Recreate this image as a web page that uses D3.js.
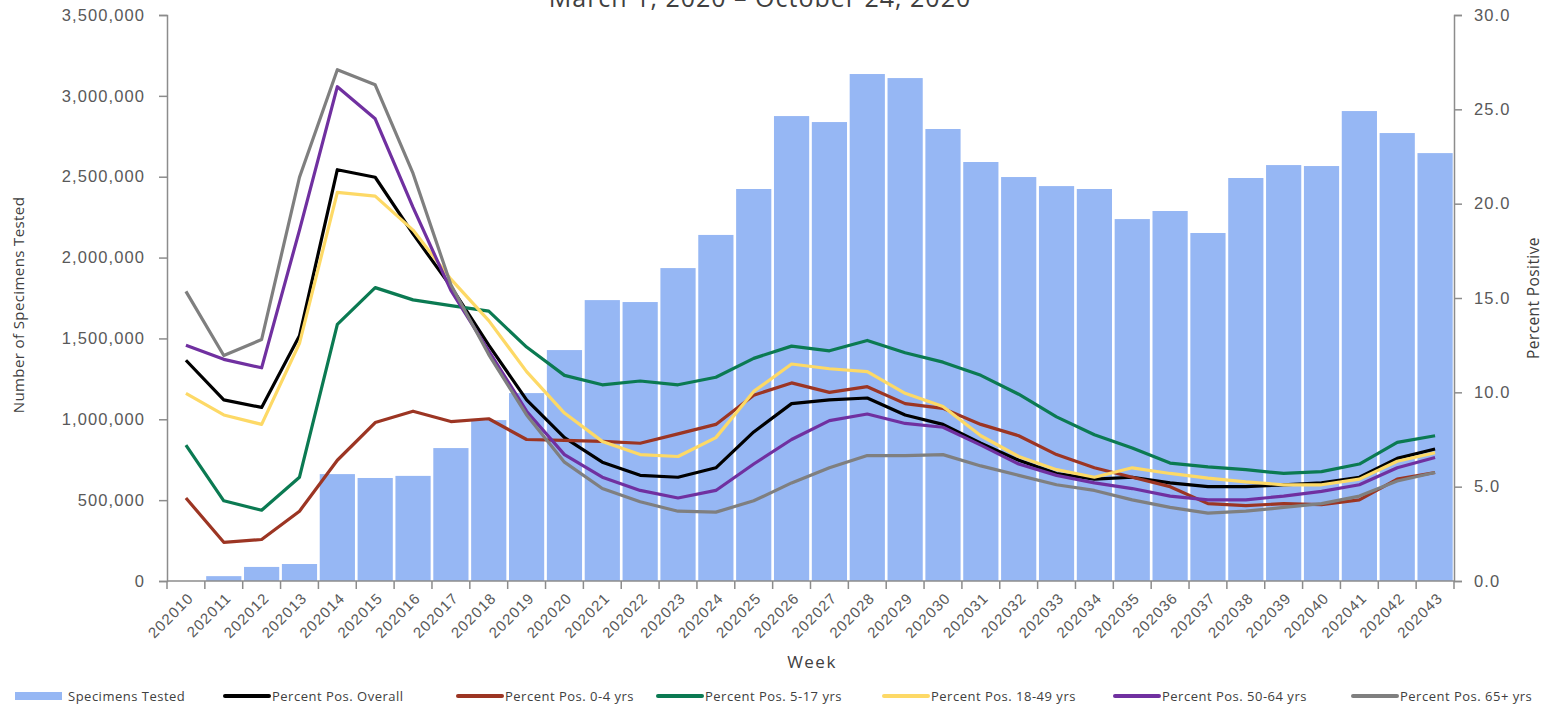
<!DOCTYPE html>
<html>
<head>
<meta charset="utf-8">
<script src="https://cdn.jsdelivr.net/npm/d3@7"></script>
<style>
  body { margin: 0; background: #fff; }
  svg { display: block; font-family: "Open Sans", sans-serif; }
  .axis path, .axis line { stroke: #8c8c8c; stroke-width: 1.5; }
  .axis text { fill: #595959; }
</style>
</head>
<body>
<svg id="chart" width="1553" height="705" viewBox="0 0 1553 705"></svg>
<script>
const weeks = d3.range(202010, 202044).map(String);

const specimens = [0, 30000, 87000, 105000, 661000, 637000, 650000, 822000, 995000, 1162000,
  1428000, 1737000, 1725000, 1935000, 2140000, 2424000, 2875000, 2838000, 3135000, 3110000,
  2795000, 2591000, 2498000, 2442000, 2424000, 2238000, 2288000, 2152000, 2492000, 2572000,
  2566000, 2906000, 2770000, 2646000];

const posOverall = [11.7, 9.6, 9.2, 13.0, 21.8, 21.4, 18.4, 15.6, 12.5, 9.6,
  7.6, 6.3, 5.6, 5.5, 6.0, 7.9, 9.4, 9.6, 9.7, 8.8,
  8.3, 7.3, 6.4, 5.7, 5.4, 5.5, 5.2, 5.0, 5.0, 5.1,
  5.2, 5.5, 6.5, 7.0];
const pos0to4 = [4.4, 2.05, 2.2, 3.7, 6.4, 8.4, 9.0, 8.45, 8.6, 7.5,
  7.45, 7.4, 7.3, 7.8, 8.3, 9.85, 10.5, 10.0, 10.3, 9.4,
  9.15, 8.3, 7.7, 6.7, 6.0, 5.5, 5.0, 4.1, 4.0, 4.1,
  4.05, 4.3, 5.4, 5.75];
const pos5to17 = [7.2, 4.25, 3.75, 5.5, 13.6, 15.55, 14.9, 14.6, 14.3, 12.4,
  10.9, 10.4, 10.6, 10.4, 10.8, 11.8, 12.45, 12.2, 12.75, 12.1,
  11.6, 10.9, 9.9, 8.7, 7.75, 7.05, 6.25, 6.05, 5.9, 5.7,
  5.8, 6.2, 7.35, 7.7];
const pos18to49 = [9.95, 8.8, 8.3, 12.6, 20.6, 20.4, 18.6, 16.0, 13.8, 11.1,
  8.9, 7.4, 6.7, 6.6, 7.6, 10.05, 11.5, 11.25, 11.1, 9.95,
  9.25, 7.7, 6.6, 5.9, 5.5, 6.0, 5.7, 5.45, 5.25, 5.1,
  5.1, 5.4, 6.35, 6.8];
const pos50to64 = [12.5, 11.75, 11.3, 18.6, 26.2, 24.5, 19.8, 15.4, 12.2, 9.0,
  6.7, 5.5, 4.8, 4.4, 4.8, 6.2, 7.5, 8.5, 8.85, 8.35,
  8.15, 7.2, 6.2, 5.6, 5.2, 4.9, 4.5, 4.3, 4.3, 4.5,
  4.75, 5.1, 6.0, 6.55];
const pos65plus = [15.35, 11.95, 12.8, 21.4, 27.1, 26.3, 21.6, 15.7, 12.0, 8.8,
  6.3, 4.9, 4.2, 3.7, 3.65, 4.25, 5.2, 6.0, 6.65, 6.65,
  6.7, 6.1, 5.6, 5.1, 4.8, 4.3, 3.9, 3.6, 3.7, 3.9,
  4.1, 4.5, 5.3, 5.75];

const leftTicks = d3.range(0, 3500001, 500000);
const rightTicks = d3.range(0, 30.1, 5);

const lineSeries = [
  { name: "Percent Pos. Overall", values: posOverall, color: "#000000" },
  { name: "Percent Pos. 0-4 yrs", values: pos0to4, color: "#9c3523" },
  { name: "Percent Pos. 5-17 yrs", values: pos5to17, color: "#0b7a52" },
  { name: "Percent Pos. 18-49 yrs", values: pos18to49, color: "#fdd966" },
  { name: "Percent Pos. 50-64 yrs", values: pos50to64, color: "#7030a0" },
  { name: "Percent Pos. 65+ yrs", values: pos65plus, color: "#7f7f7f" }
];
const barColor = "#96b7f4";

const svg = d3.select("#chart");
const margin = { top: 15, right: 99, bottom: 124, left: 167 };
const width = 1553 - margin.left - margin.right;
const height = 705 - margin.top - margin.bottom;
const g = svg.append("g").attr("transform", `translate(${margin.left},${margin.top})`);

const x = d3.scaleBand().domain(weeks).range([0, width]).paddingInner(0.07).paddingOuter(0.035);
const xc = d3.scalePoint().domain(weeks).range([0, width]).padding(0.5);
const yLeft = d3.scaleLinear().domain([0, 3500000]).range([height, 0]);
const yRight = d3.scaleLinear().domain([0, 30]).range([height, 0]);

// title, mostly cut off at the top like in the source image
svg.append("text")
  .attr("x", 760).attr("y", 7)
  .attr("text-anchor", "middle")
  .attr("font-size", 25)
  .attr("letter-spacing", 1)
  .attr("fill", "#404040")
  .text("March 1, 2020 – October 24, 2020");

// bars
g.append("g").selectAll("rect")
  .data(weeks.map((w, i) => ({ w, v: specimens[i] })).filter(d => d.v > 0))
  .join("rect")
  .attr("x", d => x(d.w))
  .attr("width", x.bandwidth())
  .attr("y", d => yLeft(d.v))
  .attr("height", d => height - yLeft(d.v))
  .attr("fill", barColor);

// lines
const line = d3.line()
  .x((d, i) => xc(weeks[i]))
  .y(d => yRight(d));
g.append("g").selectAll("path")
  .data(lineSeries)
  .join("path")
  .attr("fill", "none")
  .attr("stroke", d => d.color)
  .attr("stroke-width", 3.2)
  .attr("stroke-linejoin", "round")
  .attr("d", d => line(d.values));

// axes
const leftAxis = g.append("g").attr("class", "axis")
  .call(d3.axisLeft(yLeft).tickValues(leftTicks).tickSize(8).tickPadding(14).tickFormat(d3.format(",")));
leftAxis.selectAll("text").attr("font-size", 16.5).attr("letter-spacing", 1.1);

const rightAxis = g.append("g").attr("class", "axis")
  .attr("transform", `translate(${width},0)`)
  .call(d3.axisRight(yRight).tickValues(rightTicks).tickSize(8).tickPadding(12).tickFormat(d3.format(".1f")));
rightAxis.selectAll("text").attr("font-size", 16.5).attr("letter-spacing", 1.1);

const bottomAxis = g.append("g").attr("class", "axis")
  .attr("transform", `translate(0,${height})`)
  .call(d3.axisBottom(xc).tickSize(0).tickPadding(0));
bottomAxis.select(".domain").attr("d", `M0,0H${width}`);
bottomAxis.selectAll(".tick text")
  .attr("font-size", 15)
  .attr("letter-spacing", 1.1)
  .attr("text-anchor", "end")
  .attr("dy", 0)
  .attr("transform", "translate(8,18) rotate(-45)");
// tick marks sit on band boundaries
g.append("g").attr("class", "axis")
  .selectAll("line")
  .data(d3.range(weeks.length + 1))
  .join("line")
  .attr("x1", i => i * width / weeks.length)
  .attr("x2", i => i * width / weeks.length)
  .attr("y1", height).attr("y2", height + 8);

// axis titles
svg.append("text")
  .attr("transform", "translate(24,305) rotate(-90)")
  .attr("text-anchor", "middle")
  .attr("font-size", 15).attr("letter-spacing", 0.4).attr("fill", "#404040")
  .text("Number of Specimens Tested");
svg.append("text")
  .attr("transform", "translate(1539,298) rotate(-90)")
  .attr("text-anchor", "middle")
  .attr("font-size", 15.5).attr("letter-spacing", 0.4).attr("fill", "#404040")
  .text("Percent Positive");
svg.append("text")
  .attr("x", 812).attr("y", 668)
  .attr("text-anchor", "middle")
  .attr("font-size", 17).attr("letter-spacing", 1.5).attr("fill", "#404040")
  .text("Week");

// legend
const legendItems = [{ name: "Specimens Tested", color: barColor, bar: true }].concat(lineSeries);
const legendX = [15, 225, 458, 658, 884, 1115, 1353];
const legend = svg.append("g").attr("transform", "translate(0,696)");
legendItems.forEach((d, i) => {
  const item = legend.append("g").attr("transform", `translate(${legendX[i]},0)`);
  if (d.bar) {
    item.append("rect").attr("x", 0).attr("y", -4).attr("width", 47).attr("height", 8).attr("fill", d.color);
  } else {
    item.append("line").attr("x1", 0).attr("x2", 44).attr("y1", 0).attr("y2", 0)
      .attr("stroke", d.color).attr("stroke-width", 4).attr("stroke-linecap", "round");
  }
  item.append("text")
    .attr("x", d.bar ? 53 : 47).attr("y", 4.5)
    .attr("font-size", 13).attr("letter-spacing", 0.5).attr("fill", "#404040")
    .text(d.name);
});
</script>
</body>
</html>
